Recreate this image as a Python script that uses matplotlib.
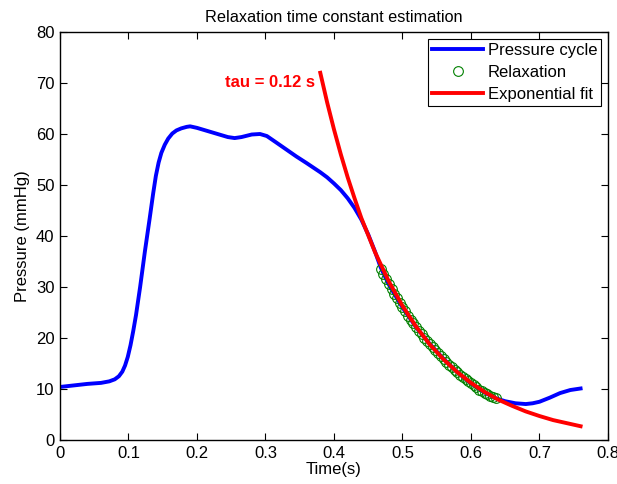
import matplotlib
matplotlib.use("Agg")
from matplotlib import pyplot as plt

plt.rcParams['font.family'] = ['Liberation Sans', 'DejaVu Sans']

# Pressure cycle
t_cycle = [0.000, 0.020, 0.040, 0.060, 0.072, 0.080, 0.086, 0.091, 0.095, 0.099,
           0.103, 0.107, 0.111, 0.117, 0.124, 0.131, 0.136, 0.140, 0.144, 0.148,
           0.153, 0.158, 0.164, 0.170, 0.177, 0.185, 0.190, 0.200, 0.215, 0.230,
           0.245, 0.255, 0.265, 0.280, 0.292, 0.302, 0.315, 0.330, 0.345, 0.360,
           0.370, 0.380, 0.390, 0.400, 0.410, 0.420, 0.430, 0.440, 0.450, 0.460,
           0.468, 0.480, 0.500, 0.520, 0.540, 0.560, 0.580, 0.600, 0.620, 0.636,
           0.650, 0.665, 0.680, 0.690, 0.700, 0.715, 0.730, 0.745, 0.760]
p_cycle = [10.4, 10.7, 11.0, 11.2, 11.5, 11.9, 12.5, 13.4, 14.6, 16.3,
           18.6, 21.4, 24.5, 30.0, 37.0, 43.5, 48.3, 51.8, 54.4, 56.3,
           57.9, 59.1, 60.1, 60.7, 61.1, 61.4, 61.5, 61.2, 60.6, 60.0,
           59.4, 59.2, 59.4, 59.9, 60.0, 59.6, 58.4, 57.0, 55.6, 54.3,
           53.4, 52.5, 51.5, 50.3, 49.0, 47.4, 45.5, 43.2, 40.3, 36.9,
           33.9, 30.5, 26.0, 22.1, 18.8, 15.9, 13.3, 11.1, 9.3, 8.2,
           7.6, 7.2, 7.05, 7.2, 7.5, 8.3, 9.2, 9.8, 10.1]

# Relaxation samples
t_relax = [0.468, 0.472, 0.476, 0.480, 0.484, 0.488, 0.492, 0.496, 0.500, 0.504,
           0.508, 0.512, 0.516, 0.520, 0.524, 0.528, 0.532, 0.536, 0.540, 0.544,
           0.548, 0.552, 0.556, 0.560, 0.564, 0.568, 0.572, 0.576, 0.580, 0.584,
           0.588, 0.592, 0.596, 0.600, 0.604, 0.608, 0.612, 0.616, 0.620, 0.624,
           0.628, 0.632, 0.636]
p_relax = [33.6, 32.5, 31.5, 30.5, 29.6, 28.7, 27.8, 26.9, 26.0, 25.2,
           24.4, 23.6, 22.9, 22.1, 21.4, 20.7, 20.0, 19.4, 18.8, 18.2,
           17.6, 17.0, 16.4, 15.9, 15.3, 14.8, 14.3, 13.8, 13.3, 12.8,
           12.4, 11.9, 11.5, 11.1, 10.7, 10.3, 9.9, 9.6, 9.3, 9.0,
           8.7, 8.4, 8.2]

# Exponential fit curve
t_fit = [0.38, 0.39, 0.40, 0.41, 0.42, 0.43, 0.44, 0.46, 0.48, 0.50, 0.52, 0.54,
         0.56, 0.58, 0.60, 0.62, 0.64, 0.66, 0.68, 0.70, 0.72, 0.74, 0.76]
p_fit = [72.0, 66.2, 60.9, 56.0, 51.5, 47.4, 43.5, 36.8, 31.1, 26.3, 22.2, 18.7,
         15.8, 13.3, 11.2, 9.4, 7.9, 6.7, 5.6, 4.7, 3.9, 3.3, 2.7]

fig = plt.figure(figsize=(6.17, 4.84), dpi=100)
ax = fig.add_axes([0.0972, 0.0909, 0.8882, 0.843])

ax.plot(t_cycle, p_cycle, color="#0000ff", linewidth=2.8, label="Pressure cycle")
ax.plot(t_relax, p_relax, "o", color="#008000", markerfacecolor="none",
        markersize=7, markeredgewidth=0.8, label="Relaxation")
ax.plot(t_fit, p_fit, color="#ff0000", linewidth=2.8, label="Exponential fit")

ax.text(0.373, 70, "tau = 0.12 s", color="#ff0000", fontweight="bold",
        fontsize=12, ha="right", va="center")

ax.set_xlim(0, 0.8)
ax.set_ylim(0, 80)
ax.set_xticks([0, 0.1, 0.2, 0.3, 0.4, 0.5, 0.6, 0.7, 0.8])
ax.set_xticklabels(["0", "0.1", "0.2", "0.3", "0.4", "0.5", "0.6", "0.7", "0.8"])
ax.set_yticks(range(0, 81, 10))
ax.tick_params(direction="in", top=True, right=True, labelsize=12, length=5, pad=4)
for s in ax.spines.values():
    s.set_linewidth(1.0)

ax.set_title("Relaxation time constant estimation", fontsize=11.7, pad=7)
ax.set_xlabel("Time(s)", fontsize=12, labelpad=1)
ax.set_ylabel("Pressure (mmHg)", fontsize=12, labelpad=4)

leg = ax.legend(loc="upper right", fontsize=12, handlelength=3.1, fancybox=False,
                framealpha=1, edgecolor="black", borderaxespad=0.4,
                borderpad=0.25, labelspacing=0.42, handletextpad=0.25)
leg.get_frame().set_linewidth(0.8)

fig.savefig("out.png", dpi=100)
